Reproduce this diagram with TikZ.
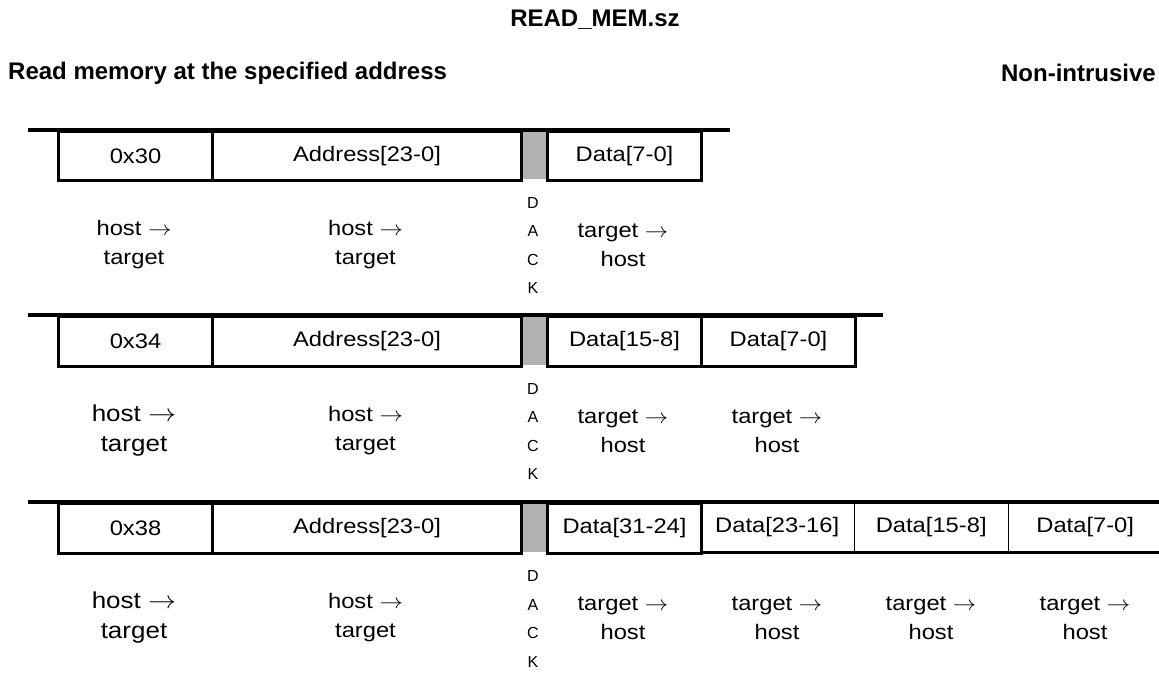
\documentclass[tikz,border=0pt]{standalone}
\usepackage{fontspec}
\setmainfont{Liberation Sans}
\newcommand\sx[1]{\scalebox{1.13}[1]{#1}}
\newcommand\lblfont{\fontsize{21}{29}\selectfont}
\newcommand\bigfont{\fontsize{23}{30}\selectfont}
\begin{document}
\begin{tikzpicture}[x=1pt,y=-1pt,
  cell/.style={draw, line width=3pt, minimum height=49pt, anchor=north west, inner sep=0pt, font=\lblfont},
  opencell/.style={draw=none, minimum height=49pt, anchor=north west, inner sep=0pt, font=\lblfont},
  dackbox/.style={fill=black!30, draw=none, minimum width=26pt, minimum height=49pt, anchor=north west, inner sep=0pt},
  topline/.style={line width=4pt},
  thickline/.style={line width=3pt},
  thinline/.style={line width=1.6pt},
  desc/.style={align=center, inner sep=0pt, font=\lblfont},
  bigdesc/.style={align=center, inner sep=0pt, font=\bigfont},
  dack/.style={align=center, inner sep=0pt, font=\fontsize{16}{28.5}\selectfont},
  hdr/.style={inner sep=0pt, font=\bfseries\fontsize{24}{28}\selectfont}]
\useasboundingbox (0,0) rectangle (1159,672);

% header
\node[hdr] (title) at (595,20) {READ\_MEM.sz};
\node[hdr, anchor=west] (sub) at (8,73) {Read memory at the specified address};
\node[hdr, anchor=east] (nonintr) at (1156,73) {Non-intrusive};

% ---------- row 1 ----------
\node[dackbox] (g1) at (520,130) {};
\node[cell, minimum width=154pt] (a1) at (57,130) {\sx{0x30}};
\node[cell, minimum width=309pt] (b1) at (211,130) {\sx{Address[23-0]}};
\node[cell, minimum width=154pt] (c1) at (546,130) {\sx{Data[7-0]}};
\coordinate (l1s) at (28,130);
\coordinate (l1e) at (730,130);
\draw[topline] (l1s) -- (l1e);
\node[desc] (da1) at (134,245) {\sx{host $\rightarrow$}\\\sx{target}};
\node[desc] (db1) at (365.5,245) {\sx{host $\rightarrow$}\\\sx{target}};
\node[dack] (k1) at (533,245.5) {D\\A\\C\\K};
\node[desc] (dc1) at (623,245) {\sx{target $\rightarrow$}\\\sx{host}};

% ---------- row 2 ----------
\node[dackbox, minimum height=50pt] (g2) at (520,315) {};
\node[cell, minimum width=154pt, minimum height=50pt] (a2) at (57,315) {\sx{0x34}};
\node[cell, minimum width=309pt, minimum height=50pt] (b2) at (211,315) {\sx{Address[23-0]}};
\node[cell, minimum width=154pt, minimum height=50pt] (c2) at (546,315) {\sx{Data[15-8]}};
\node[cell, minimum width=154pt, minimum height=50pt] (d2) at (700,315) {\sx{Data[7-0]}};
\coordinate (l2s) at (28,315);
\coordinate (l2e) at (883,315);
\draw[topline] (l2s) -- (l2e);
\node[bigdesc] (da2) at (134,431) {\sx{host $\rightarrow$}\\\sx{target}};
\node[desc] (db2) at (365.5,431) {\sx{host $\rightarrow$}\\\sx{target}};
\node[dack] (k2) at (533,431.5) {D\\A\\C\\K};
\node[desc] (dc2) at (623,431) {\sx{target $\rightarrow$}\\\sx{host}};
\node[desc] (dd2) at (777,431) {\sx{target $\rightarrow$}\\\sx{host}};

% ---------- row 3 ----------
\node[dackbox, minimum height=50pt] (g3) at (520,502) {};
\node[cell, minimum width=154pt, minimum height=50pt] (a3) at (57,502) {\sx{0x38}};
\node[cell, minimum width=309pt, minimum height=50pt] (b3) at (211,502) {\sx{Address[23-0]}};
\node[cell, minimum width=154pt, minimum height=50pt] (c3) at (546,502) {\sx{Data[31-24]}};
\node[opencell, minimum width=154pt, minimum height=50pt] (d3) at (700,502) {\sx{Data[23-16]}};
\node[opencell, minimum width=154pt, minimum height=50pt] (e3) at (854,502) {\sx{Data[15-8]}};
\node[opencell, minimum width=154pt, minimum height=50pt] (f3) at (1008,502) {\sx{Data[7-0]}};
\draw[thickline] (d3.south west) -- (f3.south east);
\draw[thinline] (d3.north east) -- (d3.south east);
\draw[thinline] (e3.north east) -- (e3.south east);
\draw[thickline] (f3.north east) -- (f3.south east);
\coordinate (l3s) at (28,502);
\coordinate (l3e) at (1191,502);
\draw[topline] (l3s) -- (l3e);
\node[bigdesc] (da3) at (134,618) {\sx{host $\rightarrow$}\\\sx{target}};
\node[desc] (db3) at (365.5,618) {\sx{host $\rightarrow$}\\\sx{target}};
\node[dack] (k3) at (533,619) {D\\A\\C\\K};
\node[desc] (dc3) at (623,618) {\sx{target $\rightarrow$}\\\sx{host}};
\node[desc] (dd3) at (777,618) {\sx{target $\rightarrow$}\\\sx{host}};
\node[desc] (de3) at (931,618) {\sx{target $\rightarrow$}\\\sx{host}};
\node[desc] (df3) at (1085,618) {\sx{target $\rightarrow$}\\\sx{host}};
\end{tikzpicture}
\end{document}
